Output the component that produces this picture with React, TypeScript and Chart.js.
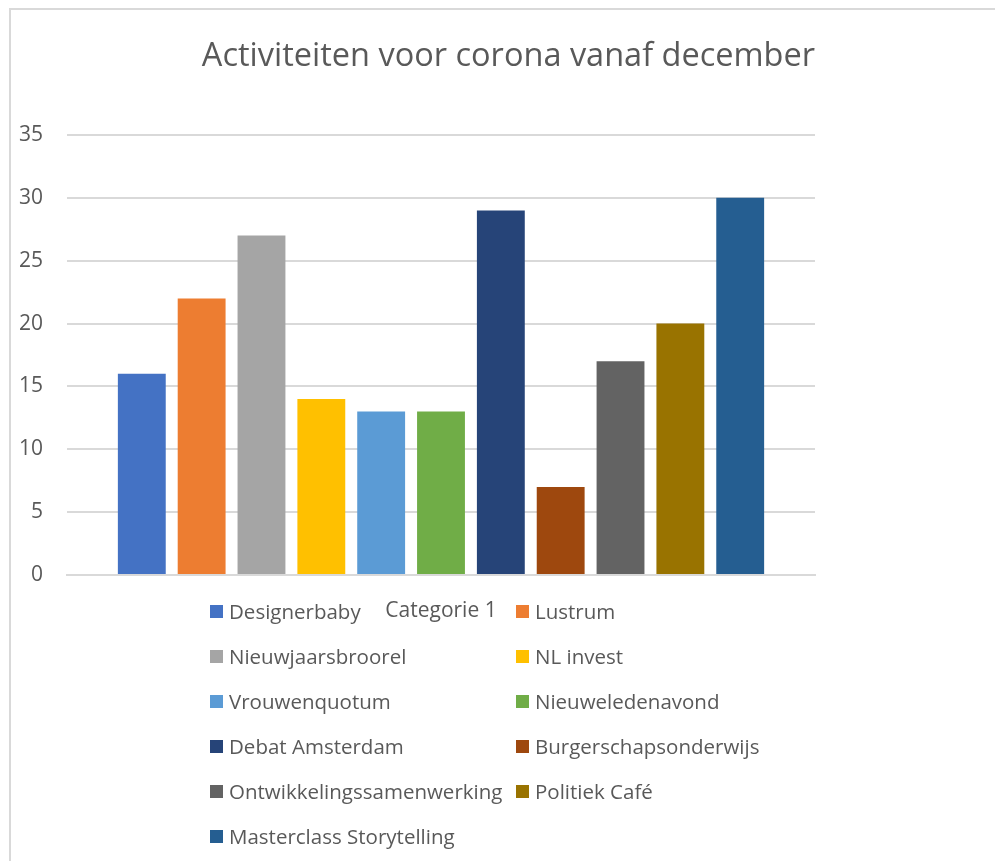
import React, { useEffect, useRef } from "react";
import { Chart, registerables } from "chart.js";
Chart.register(...registerables);

const chartTitle = "Activiteiten voor corona vanaf december";
const categories = ["Categorie 1"];
const seriesNames = [
  "Designerbaby",
  "Lustrum",
  "Nieuwjaarsbroorel",
  "NL invest",
  "Vrouwenquotum",
  "Nieuweledenavond",
  "Debat Amsterdam",
  "Burgerschapsonderwijs",
  "Ontwikkelingssamenwerking",
  "Politiek Café",
  "Masterclass Storytelling",
];
const seriesValues = [16, 22, 27, 14, 13, 13, 29, 7, 17, 20, 30];
const seriesColors = [
  "#4472C4",
  "#ED7D31",
  "#A5A5A5",
  "#FFC000",
  "#5B9BD5",
  "#70AD47",
  "#264478",
  "#9E480E",
  "#636363",
  "#997300",
  "#255E91",
];
const yMin = 0;
const yMax = 35;
const yStep = 5;

const FONT = "'Open Sans', sans-serif";
const TEXT = "#595959";

export default function App() {
  const ref = useRef<HTMLCanvasElement>(null);
  useEffect(() => {
    const chart = new Chart(ref.current!, {
      type: "bar",
      data: {
        labels: categories,
        datasets: seriesNames.map((n, i) => ({
          label: n,
          data: [seriesValues[i]],
          backgroundColor: seriesColors[i],
          borderWidth: 0,
          categoryPercentage: 0.88,
          barPercentage: 0.8,
        })),
      },
      options: {
        animation: false,
        responsive: false,
        maintainAspectRatio: false,
        layout: { padding: { left: 10, right: 180, top: 0, bottom: 0 } },
        plugins: {
          legend: { display: false },
          tooltip: { enabled: false },
          title: {
            display: true,
            text: chartTitle,
            align: "end",
            color: TEXT,
            font: { family: FONT, size: 32.5, weight: "normal" },
            padding: { top: 37, bottom: 59 },
          },
        },
        scales: {
          x: {
            grid: { display: false },
            border: { display: true, color: "#d9d9d9", width: 2 },
            ticks: { color: TEXT, font: { family: FONT, size: 21 }, padding: 15 },
            afterFit: (s: any) => {
              s.height = 286;
            },
          },
          y: {
            min: yMin,
            max: yMax,
            ticks: { stepSize: yStep, color: TEXT, font: { family: FONT, size: 21 }, padding: 24 },
            grid: { color: "#d9d9d9", lineWidth: 2, drawTicks: false },
            border: { display: false },
            afterFit: (s: any) => {
              s.width = 57;
            },
          },
        },
      },
    });
    return () => chart.destroy();
  }, []);

  return (
    <div style={{ position: "fixed", left: 0, top: 0, width: 995, height: 861, overflow: "hidden", background: "#fff", fontFamily: FONT }}>
      <div
        style={{
          position: "absolute",
          left: 9,
          top: 8,
          width: 1100,
          height: 1000,
          borderLeft: "2px solid #d9d9d9",
          borderTop: "2px solid #d9d9d9",
        }}
      />
      <canvas ref={ref} width={995} height={861} style={{ position: "absolute", left: 0, top: 0, display: "block" }} />
      {seriesNames.map((n, i) => (
        <div
          key={n}
          style={{
            position: "absolute",
            left: 210 + (i % 2) * 306,
            top: 611 + Math.floor(i / 2) * 45 - 15,
            height: 30,
            display: "flex",
            alignItems: "center",
            whiteSpace: "nowrap",
            color: TEXT,
            fontSize: 20.5,
          }}
        >
          <span style={{ display: "inline-block", width: 13, height: 13, background: seriesColors[i], marginRight: 6 }} />
          <span>{n}</span>
        </div>
      ))}
    </div>
  );
}
